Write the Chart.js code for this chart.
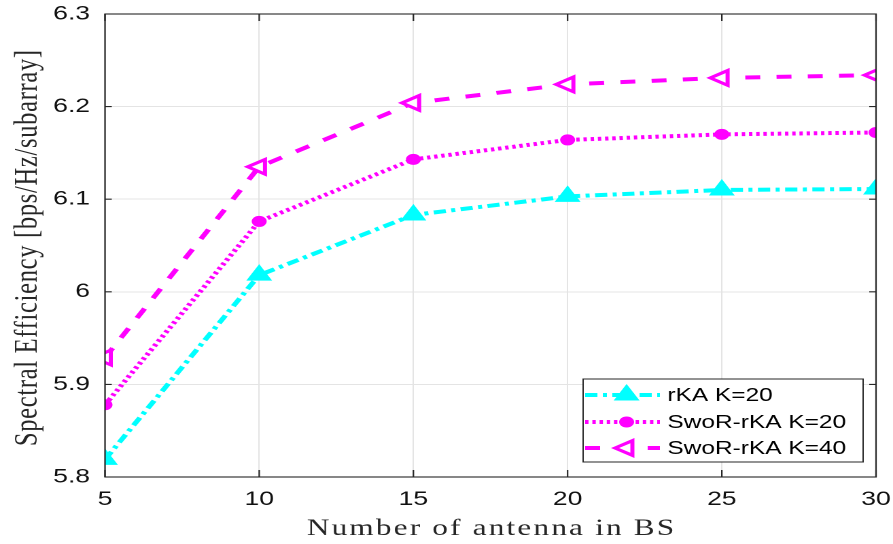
<!DOCTYPE html>
<html><head><meta charset="utf-8">
<script src="https://cdn.jsdelivr.net/npm/chart.js@4/dist/chart.umd.min.js"></script>
<style>
html,body{margin:0;padding:0;background:#fff;overflow:hidden}
#wrap{width:657px;height:544px;transform:scaleX(1.35921);transform-origin:0 0}
canvas{display:block}
</style>
</head><body>
<div id="wrap"><canvas id="c" width="657" height="544"></canvas></div>
<script>
const antennas = [5, 10, 15, 20, 25, 30];
const rKA_K20 = [5.819, 6.018, 6.083, 6.103, 6.110, 6.111];
const SwoR_K20 = [5.878, 6.076, 6.143, 6.164, 6.170, 6.172];
const SwoR_K40 = [5.929, 6.135, 6.204, 6.224, 6.231, 6.234];
const seriesNames = ['rKA K=20', 'SwoR-rKA K=20', 'SwoR-rKA K=40'];
const yTicks = [5.8, 5.9, 6, 6.1, 6.2, 6.3];
const xTicks = [5, 10, 15, 20, 25, 30];
const xTitle = 'Number of antenna in BS';
const yTitle = 'Spectral Efficiency [bps/Hz/subarray]';

const CYAN = '#00FFFF', MAG = '#FF00FF';
const sansFont = "'Liberation Sans', Arial, sans-serif";
const serifFont = "'Liberation Serif', 'Times New Roman', serif";

const datasets = [
  {label: seriesNames[0], data: antennas.map((x,i)=>({x, y: rKA_K20[i]})),
   borderColor: CYAN, backgroundColor: CYAN, borderWidth: 4, borderDash: [9,4,3,4],
   pointStyle: 'triangle', pointRadius: 8.5, pointBorderWidth: 2.5, pointBackgroundColor: CYAN, pointBorderColor: CYAN, pointRotation: 0},
  {label: seriesNames[1], data: antennas.map((x,i)=>({x, y: SwoR_K20[i]})),
   borderColor: MAG, backgroundColor: MAG, borderWidth: 4, borderDash: [2.5,2.8],
   pointStyle: 'circle', pointRadius: 5, pointBorderWidth: 1, pointBackgroundColor: MAG, pointBorderColor: MAG},
  {label: seriesNames[2], data: antennas.map((x,i)=>({x, y: SwoR_K40[i]})),
   borderColor: MAG, backgroundColor: MAG, borderWidth: 4, borderDash: [11,12],
   pointStyle: 'triangle', pointRadius: 8.5, pointBorderWidth: 3, pointBackgroundColor: '#fff', pointBorderColor: MAG, pointRotation: -90}
];

function spacedText(ctx, text, x, y, spacing) {
  ctx.letterSpacing = spacing + 'px';
  const w = ctx.measureText(text).width - spacing;
  ctx.textAlign = 'left';
  ctx.fillText(text, x - w / 2, y);
  ctx.letterSpacing = '0px';
}

const frame = {
  id: 'frame',
  afterDatasetsDraw(chart) {
    const {ctx, chartArea: a, scales} = chart;
    ctx.save();
    ctx.strokeStyle = '#262626';
    ctx.lineWidth = 1.1;
    ctx.strokeRect(a.left, a.top, a.right - a.left, a.bottom - a.top);
    ctx.beginPath();
    xTicks.forEach(v => {
      const px = scales.x.getPixelForValue(v);
      ctx.moveTo(px, a.bottom); ctx.lineTo(px, a.bottom - 7);
      ctx.moveTo(px, a.top); ctx.lineTo(px, a.top + 7);
    });
    yTicks.forEach(v => {
      const py = scales.y.getPixelForValue(v);
      ctx.moveTo(a.left, py); ctx.lineTo(a.left + 5, py);
      ctx.moveTo(a.right, py); ctx.lineTo(a.right - 5, py);
    });
    ctx.stroke();
    ctx.restore();
  },
  afterDraw(chart) {
    const {ctx, chartArea: a} = chart;
    ctx.save();
    // axis titles
    ctx.fillStyle = '#262626';
    ctx.font = '23px ' + serifFont;
    ctx.textBaseline = 'alphabetic';
    spacedText(ctx, xTitle, (a.left + a.right) / 2, 535, 1.6);
    ctx.save();
    ctx.font = '24.5px ' + serifFont;
    ctx.translate(27.2, 248);
    ctx.rotate(-Math.PI / 2);
    ctx.textBaseline = 'alphabetic';
    spacedText(ctx, yTitle, 0, 0, 0.7);
    ctx.restore();
    // legend
    const bx = 429, by = 379, bw = 206, bh = 83;
    ctx.fillStyle = '#fff';
    ctx.fillRect(bx, by, bw, bh);
    ctx.strokeStyle = '#262626';
    ctx.lineWidth = 1;
    ctx.strokeRect(bx, by, bw, bh);
    chart.data.datasets.forEach((ds, i) => {
      const yy = [395, 422, 448][i];
      ctx.save();
      ctx.strokeStyle = ds.borderColor;
      ctx.lineWidth = ds.borderWidth;
      ctx.setLineDash(ds.borderDash);
      ctx.beginPath(); ctx.moveTo(bx + 1.5, yy); ctx.lineTo(bx + 56.5, yy); ctx.stroke();
      ctx.setLineDash([]);
      ctx.fillStyle = ds.pointBackgroundColor;
      ctx.strokeStyle = ds.pointBorderColor;
      ctx.lineWidth = ds.pointBorderWidth;
      Chart.helpers.drawPoint(ctx, {
        pointStyle: ds.pointStyle, radius: ds.pointRadius, rotation: ds.pointRotation || 0,
        borderWidth: ds.pointBorderWidth
      }, bx + 32, yy);
      ctx.restore();
      ctx.fillStyle = '#000';
      ctx.font = '18px ' + sansFont;
      ctx.textBaseline = 'middle';
      ctx.textAlign = 'left';
      ctx.fillText(ds.label, bx + 62, yy + 1);
    });
    ctx.restore();
  }
};

new Chart(document.getElementById('c'), {
  type: 'line',
  data: {datasets},
  options: {
    responsive: false,
    animation: false,
    devicePixelRatio: 2,
    layout: {padding: {top: 14, right: 12.5, left: 0, bottom: 0}},
    plugins: {legend: {display: false}, tooltip: {enabled: false}},
    scales: {
      x: {
        type: 'linear', min: 5, max: 30,
        afterBuildTicks: s => { s.ticks = xTicks.map(v => ({value: v})); },
        afterFit: s => { s.height = 67; s.paddingLeft = 0; s.paddingRight = 0; },
        grid: {color: '#e4e4e4', drawTicks: false, lineWidth: 1},
        border: {display: false},
        ticks: {color: '#111', font: {family: sansFont, size: 19.5}, padding: 11, maxRotation: 0},
        title: {display: false}
      },
      y: {
        type: 'linear', min: 5.8, max: 6.3,
        afterBuildTicks: s => { s.ticks = yTicks.map(v => ({value: v})); },
        afterFit: s => { s.width = 77.25; s.paddingTop = 0; s.paddingBottom = 0; },
        grid: {color: '#e4e4e4', drawTicks: false, lineWidth: 1},
        border: {display: false},
        ticks: {color: '#111', font: {family: sansFont, size: 19.5}, padding: 11,
                callback: v => String(Number(v.toFixed(1)))},
        title: {display: false}
      }
    }
  },
  plugins: [frame]
});
</script>
</body></html>
